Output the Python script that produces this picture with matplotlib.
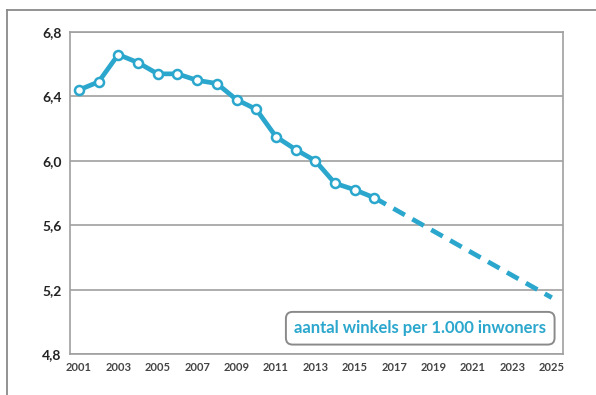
"""Aantal winkels per 1.000 inwoners, 2001-2016 with a trend to 2025."""
import matplotlib
matplotlib.use("Agg")
import matplotlib.pyplot as plt
from matplotlib.lines import Line2D
from matplotlib.ticker import FuncFormatter

# observed values
years = [2001, 2002, 2003, 2004, 2005, 2006, 2007, 2008,
         2009, 2010, 2011, 2012, 2013, 2014, 2015, 2016]
values = [6.44, 6.49, 6.66, 6.61, 6.54, 6.54, 6.50, 6.48,
          6.38, 6.32, 6.15, 6.07, 6.00, 5.86, 5.82, 5.77]

# forecast (dashed)
trend_years = [2016, 2025]
trend_values = [5.77, 5.15]

y_ticks = [4.8, 5.2, 5.6, 6.0, 6.4, 6.8]
x_ticks = list(range(2001, 2026, 2))
label = "aantal winkels per 1.000 inwoners"

LINE = "#2ba7cd"
GRID = "#a0a0a0"
FONT = ["Lato", "DejaVu Sans"]

plt.rcParams["font.family"] = FONT

fig = plt.figure(figsize=(5.96, 3.95), dpi=100)

# outer frame: only the left and top edges fall inside the picture
fx, fy = 7.5 / 596, 1 - 9.5 / 395
fig.add_artist(Line2D([fx, fx], [0, fy], transform=fig.transFigure,
                      color="#8a8a8a", lw=1.3))
fig.add_artist(Line2D([fx, 1], [fy, fy], transform=fig.transFigure,
                      color="#8a8a8a", lw=1.3))

ax = fig.add_axes([70 / 596, 41 / 395, 493 / 596, 322 / 395])

ax.plot(trend_years, trend_values, color=LINE, lw=3.4,
        linestyle=(0, (2.8, 1.8)), solid_capstyle="butt", zorder=3)
ax.plot(years, values, color=LINE, lw=3.4, marker="o", markersize=6.5,
        markerfacecolor="white", markeredgecolor=LINE, markeredgewidth=1.8,
        zorder=4)

ax.set_xlim(2000.55, 2025.57)
ax.set_ylim(4.8, 6.8)
ax.set_yticks(y_ticks)
ax.set_xticks(x_ticks)
ax.yaxis.set_major_formatter(FuncFormatter(lambda v, p: f"{v:.1f}".replace(".", ",")))
ax.tick_params(axis="both", length=0)
ax.tick_params(axis="y", pad=6, labelsize=10, labelcolor="#222222")
ax.tick_params(axis="x", pad=6, labelsize=8, labelcolor="#444444")
for t in ax.get_yticklabels():
    t.set_fontweight("bold")
for t in ax.get_xticklabels():
    t.set_fontweight("bold")

ax.grid(axis="y", color=GRID, lw=1.2)
ax.set_axisbelow(True)
for s in ax.spines.values():
    s.set_color(GRID)
    s.set_linewidth(1.2)

ax.text(0.966, 0.080, label, transform=ax.transAxes, ha="right", va="center",
        fontsize=12, fontweight="bold", color=LINE, zorder=6,
        bbox=dict(boxstyle="round,pad=0.5,rounding_size=0.4", facecolor="white",
                  edgecolor="#8a8a8a", linewidth=1.4))

fig.savefig("out.png", dpi=100)
